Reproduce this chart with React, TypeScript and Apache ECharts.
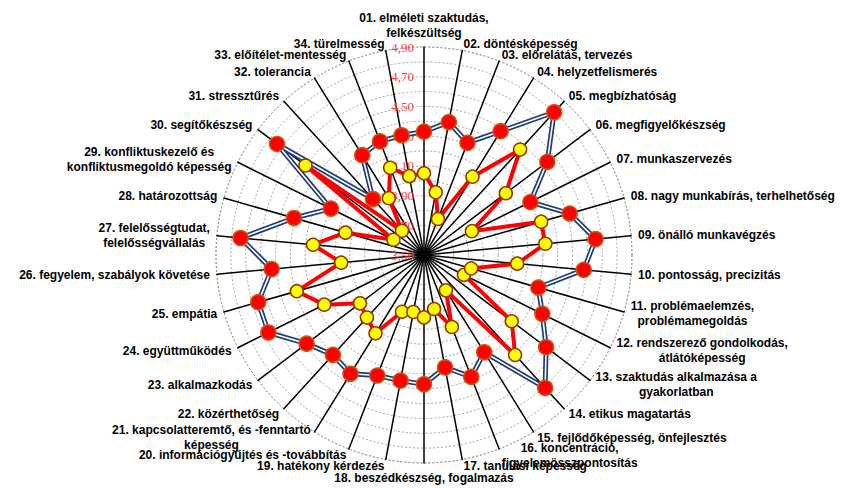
import React, { useEffect, useRef } from "react";
import * as echarts from "echarts";

const categories: string[] = [
  "01. elméleti szaktudás,\nfelkészültség",
  "02. döntésképesség",
  "03. előrelátás, tervezés",
  "04. helyzetfelismerés",
  "05. megbízhatóság",
  "06. megfigyelőkészség",
  "07. munkaszervezés",
  "08. nagy munkabírás, terhelhetőség",
  "09. önálló munkavégzés",
  "10. pontosság, precizitás",
  "11. problémaelemzés,\nproblémamegoldás",
  "12. rendszerező gondolkodás,\nátlátóképesség",
  "13. szaktudás alkalmazása a\ngyakorlatban",
  "14. etikus magatartás",
  "15. fejlődőképesség, önfejlesztés",
  "16. koncentráció,\nfigyelemösszpontosítás",
  "17. tanulási képesség",
  "18. beszédkészség, fogalmazás",
  "19. hatékony kérdezés",
  "20. információgyűjtés és -továbbítás",
  "21. kapcsolatteremtő, és -fenntartó\nképesség",
  "22. közérthetőség",
  "23. alkalmazkodás",
  "24. együttműködés",
  "25. empátia",
  "26. fegyelem, szabályok követése",
  "27. felelősségtudat,\nfelelősségvállalás",
  "28. határozottság",
  "29. konfliktuskezelő és\nkonfliktusmegoldó képesség",
  "30. segítőkészség",
  "31. stressztűrés",
  "32. tolerancia",
  "33. előítélet-mentesség",
  "34. türelmesség",
];

const seriesA: number[] = [
  4.33, 4.41, 4.31, 4.48, 4.8, 4.54, 4.3, 4.52, 4.66, 4.58, 4.3, 4.39, 4.53,
  4.71, 4.27, 4.38, 4.27, 4.37, 4.36, 4.37, 4.44, 4.41, 4.49, 4.67, 4.66, 4.53,
  4.74, 4.41, 4.2, 4.74, 4.01, 4.29, 4.32, 4.32,
];

const seriesB: number[] = [
  4.05, 3.93, 3.76, 4.12, 4.46, 4.19, 3.86, 4.32, 4.32, 4.13, 3.83, 3.8, 4.24,
  4.41, 3.78, 4.02, 3.87, 3.92, 3.89, 3.91, 4.12, 4.07, 4.04, 4.25, 4.39, 4.06,
  4.25, 4.05, 3.73, 4.5, 3.72, 3.95, 4.13, 4.04,
];

const axisMin = 3.5;
const axisMax = 4.9;
const splitCount = 14;

const nameFont = "'Liberation Sans', Arial, sans-serif";

// ECharts radar runs counter-clockwise; keep item 0 at the top and reverse the rest
function clockwise<T>(arr: T[]): T[] {
  return [arr[0], ...arr.slice(1).reverse()];
}

export default function App() {
  const ref = useRef<HTMLDivElement>(null);
  useEffect(() => {
    if (!ref.current) return;
    const chart = echarts.init(ref.current, null, { renderer: "svg" });
    const indicator = clockwise(categories).map((name, i) => {
      const o: any = { name, min: axisMin, max: axisMax };
      if (i === 0) {
        o.axisLabel = {
          show: true,
          color: "#ff4040",
          fontFamily: "'Liberation Serif', serif",
          fontSize: 13,
          margin: 10,
          formatter: (v: number) =>
            Math.round(v * 10) % 2 === 1 ? v.toFixed(2).replace(".", ",") : "",
        };
      }
      return o;
    });
    const a = clockwise(seriesA);
    const b = clockwise(seriesB);
    chart.setOption({
      animation: false,
      backgroundColor: "#ffffff",
      radar: {
        center: [424, 255],
        radius: 208,
        shape: "circle",
        startAngle: 90,
        splitNumber: splitCount,
        indicator,
        nameGap: 7,
        axisName: {
          color: "#000",
          fontWeight: "bold",
          fontSize: 12,
          fontFamily: nameFont,
          formatter: (name: string) =>
            name
              .split("\n")
              .map((l) => `{c|${l}}`)
              .join("\n"),
          rich: {
            c: {
              align: "center",
              color: "#000",
              fontWeight: "bold",
              fontSize: 12,
              fontFamily: nameFont,
              lineHeight: 15,
            },
          },
        },
        axisLine: { lineStyle: { color: "#000", width: 1.5 } },
        axisTick: { show: false },
        axisLabel: { show: false },
        splitLine: {
          lineStyle: { color: "#8c8c8c", width: 0.8, type: [2, 2] },
        },
        splitArea: { show: false },
      },
      series: [
        {
          type: "radar",
          symbol: "none",
          lineStyle: { color: "#1f3a78", width: 5 },
          data: [{ value: a }],
          z: 2,
        },
        {
          type: "radar",
          symbol: "circle",
          symbolSize: 15,
          lineStyle: { color: "#ffffff", width: 1.6 },
          itemStyle: { color: "#ff0000", borderColor: "#c55a11", borderWidth: 1.5 },
          data: [{ value: a }],
          z: 3,
        },
        {
          type: "radar",
          symbol: "circle",
          symbolSize: 13,
          lineStyle: { color: "#ff0000", width: 4 },
          itemStyle: { color: "#ffff00", borderColor: "#993300", borderWidth: 1.5 },
          data: [{ value: b }],
          z: 4,
        },
      ],
    });
    return () => chart.dispose();
  }, []);
  return (
    <div
      ref={ref}
      style={{ position: "fixed", left: 0, top: 0, width: 848, height: 489 }}
    />
  );
}
